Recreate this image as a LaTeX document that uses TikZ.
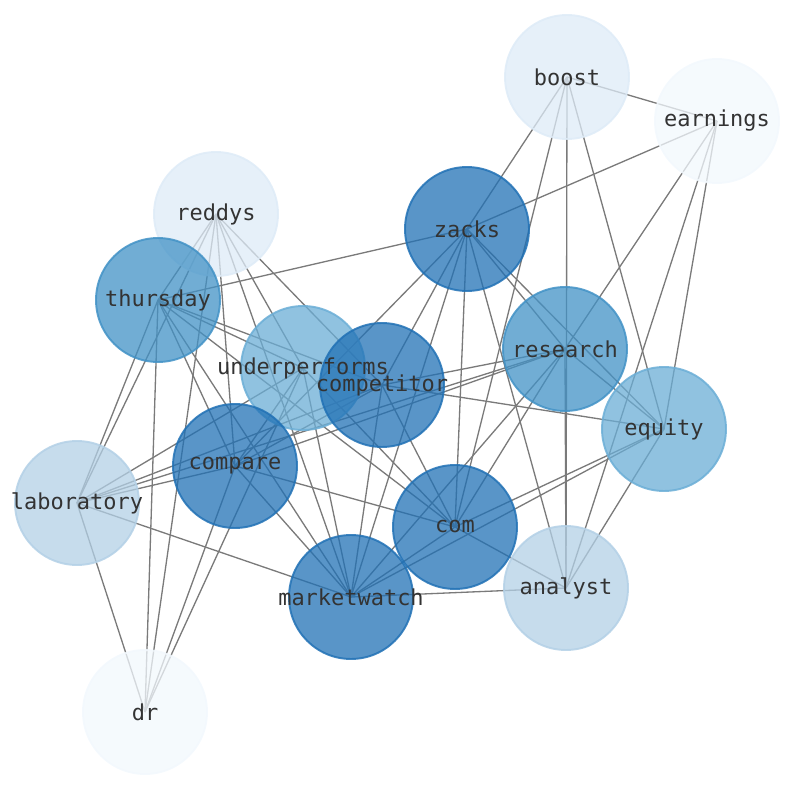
\documentclass[tikz,border=0pt]{standalone}
\usepackage{fontspec}
\setmonofont{DejaVu Sans Mono}
\usepackage{tikz}

\pgfdeclarelayer{edges}
\pgfdeclarelayer{labels}
\pgfsetlayers{edges,main,labels}

\definecolor{blueA}{HTML}{2171B5} % most links
\definecolor{blueB}{HTML}{4292C6}
\definecolor{blueC}{HTML}{6BAED6}
\definecolor{blueD}{HTML}{B3D0E6}
\definecolor{blueE}{HTML}{DEEBF7}
\definecolor{blueF}{HTML}{F2F8FD} % fewest links
\definecolor{labelgray}{HTML}{333333}

\begin{document}
\begin{tikzpicture}[x=0.02cm, y=-0.02cm]
  \useasboundingbox (0,0) rectangle (794,790);

  \tikzset{
    word node/.style={circle, minimum size=2.48cm, inner sep=0pt,
      fill=#1, fill opacity=0.75, draw=#1, draw opacity=0.85, line width=1.1pt},
    word label/.style={inner sep=0pt, text=labelgray,
      font=\ttfamily\fontsize{12.5}{14}\selectfont},
    co edge/.style={black!52, line width=0.75pt},
  }

  \newcommand{\wordnode}[4]{
    \node[word node=#4] (#1) at (#2,#3) {};
    \begin{pgfonlayer}{labels}
      \node[word label] (#1 text) at (#1.center) {#1};
    \end{pgfonlayer}
  }

  % light words first, so dark ones sit on top
  \wordnode{earnings}{717}{121}{blueF};
  \wordnode{dr}{145}{712}{blueF};
  \wordnode{boost}{567}{77}{blueE};
  \wordnode{reddys}{216}{214}{blueE};
  \wordnode{laboratory}{77}{503}{blueD};
  \wordnode{analyst}{566}{588}{blueD};
  \wordnode{underperforms}{303}{368}{blueC};
  \wordnode{equity}{664}{429}{blueC};
  \wordnode{thursday}{158}{300}{blueB};
  \wordnode{research}{565}{349}{blueB};
  \wordnode{zacks}{467}{229}{blueA};
  \wordnode{competitor}{382}{385}{blueA};
  \wordnode{compare}{235}{466}{blueA};
  \wordnode{com}{455}{527}{blueA};
  \wordnode{marketwatch}{351}{597}{blueA};

  % co-occurrence links, under the nodes
  \begin{pgfonlayer}{edges}
    \draw[co edge] (boost.center) -- (earnings.center);
    \draw[co edge] (boost.center) -- (zacks.center);
    \draw[co edge] (boost.center) -- (com.center);
    \draw[co edge] (boost.center) -- (analyst.center);
    \draw[co edge] (boost.center) -- (equity.center);
    \draw[co edge] (earnings.center) -- (zacks.center);
    \draw[co edge] (earnings.center) -- (research.center);
    \draw[co edge] (earnings.center) -- (analyst.center);
    \draw[co edge] (earnings.center) -- (equity.center);
    \draw[co edge] (reddys.center) -- (laboratory.center);
    \draw[co edge] (reddys.center) -- (dr.center);
    \draw[co edge] (reddys.center) -- (compare.center);
    \draw[co edge] (reddys.center) -- (underperforms.center);
    \draw[co edge] (reddys.center) -- (marketwatch.center);
    \draw[co edge] (reddys.center) -- (competitor.center);
    \draw[co edge] (reddys.center) -- (thursday.center);
    \draw[co edge] (zacks.center) -- (thursday.center);
    \draw[co edge] (zacks.center) -- (compare.center);
    \draw[co edge] (zacks.center) -- (competitor.center);
    \draw[co edge] (zacks.center) -- (marketwatch.center);
    \draw[co edge] (zacks.center) -- (com.center);
    \draw[co edge] (zacks.center) -- (analyst.center);
    \draw[co edge] (zacks.center) -- (research.center);
    \draw[co edge] (zacks.center) -- (equity.center);
    \draw[co edge] (thursday.center) -- (laboratory.center);
    \draw[co edge] (thursday.center) -- (dr.center);
    \draw[co edge] (thursday.center) -- (compare.center);
    \draw[co edge] (thursday.center) -- (marketwatch.center);
    \draw[co edge] (thursday.center) -- (com.center);
    \draw[co edge] (thursday.center) -- (underperforms.center);
    \draw[co edge] (thursday.center) -- (competitor.center);
    \draw[co edge] (research.center) -- (analyst.center);
    \draw[co edge] (research.center) -- (com.center);
    \draw[co edge] (research.center) -- (marketwatch.center);
    \draw[co edge] (research.center) -- (competitor.center);
    \draw[co edge] (research.center) -- (compare.center);
    \draw[co edge] (research.center) -- (laboratory.center);
    \draw[co edge] (research.center) -- (equity.center);
    \draw[co edge] (underperforms.center) -- (compare.center);
    \draw[co edge] (underperforms.center) -- (laboratory.center);
    \draw[co edge] (underperforms.center) -- (dr.center);
    \draw[co edge] (underperforms.center) -- (com.center);
    \draw[co edge] (underperforms.center) -- (marketwatch.center);
    \draw[co edge] (competitor.center) -- (equity.center);
    \draw[co edge] (competitor.center) -- (com.center);
    \draw[co edge] (competitor.center) -- (marketwatch.center);
    \draw[co edge] (competitor.center) -- (compare.center);
    \draw[co edge] (competitor.center) -- (laboratory.center);
    \draw[co edge] (equity.center) -- (com.center);
    \draw[co edge] (equity.center) -- (marketwatch.center);
    \draw[co edge] (equity.center) -- (analyst.center);
    \draw[co edge] (compare.center) -- (laboratory.center);
    \draw[co edge] (compare.center) -- (dr.center);
    \draw[co edge] (compare.center) -- (com.center);
    \draw[co edge] (compare.center) -- (marketwatch.center);
    \draw[co edge] (laboratory.center) -- (marketwatch.center);
    \draw[co edge] (laboratory.center) -- (dr.center);
    \draw[co edge] (com.center) -- (analyst.center);
    \draw[co edge] (com.center) -- (marketwatch.center);
    \draw[co edge] (marketwatch.center) -- (analyst.center);
  \end{pgfonlayer}
\end{tikzpicture}
\end{document}
